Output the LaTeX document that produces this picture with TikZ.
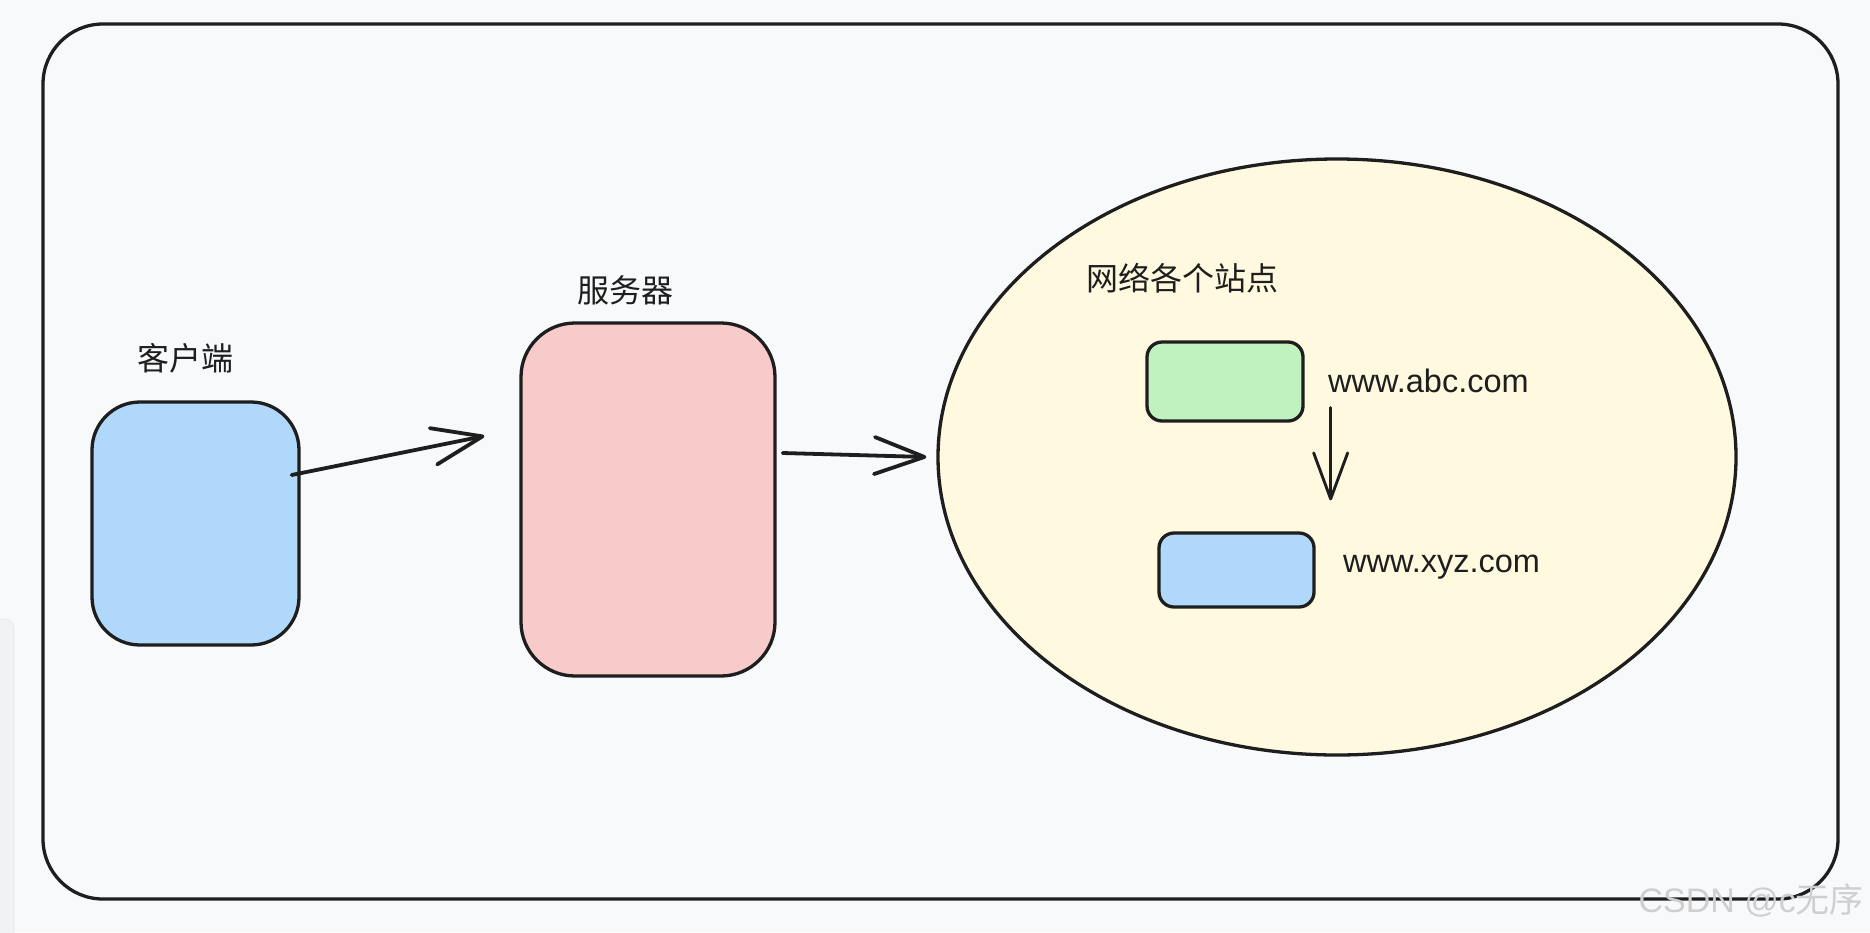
\documentclass[tikz,border=0pt]{standalone}
\usepackage{fontspec}
\setmainfont{Liberation Sans}
\newfontfamily\cjk{Noto Sans CJK SC}
\usetikzlibrary{arrows.meta,shapes.geometric,calc}
\definecolor{bgc}{HTML}{F8F9FB}
\definecolor{ink}{HTML}{1E1E1E}
\definecolor{blueb}{HTML}{B0D8FB}
\definecolor{pinkb}{HTML}{F8CBCB}
\definecolor{greenb}{HTML}{C0F2C0}
\definecolor{yellowb}{HTML}{FFFADF}
\definecolor{panelc}{HTML}{F1F2F4}
\definecolor{wmark}{HTML}{CFCFCF}
\tikzset{
  boxst/.style={draw=ink, line width=3.3pt, inner sep=0pt},
  cjklabel/.style={font=\cjk\fontsize{32pt}{36pt}\selectfont, text=ink, inner sep=0pt},
  urllabel/.style={font=\fontsize{32.5pt}{36pt}\selectfont, text=ink, inner sep=0pt},
  arr/.style={draw=ink, line width=3.8pt, line cap=round,
    -{Straight Barb[length=50pt,width=37pt,round]}},
  arrsmall/.style={draw=ink, line width=2.9pt, line cap=round,
    -{Straight Barb[length=46pt,width=34pt,round]}},
}
\begin{document}
\begin{tikzpicture}[x=1pt,y=-1pt]
\useasboundingbox (0,0) rectangle (1870,932);
\fill[bgc] (0,0) rectangle (1870,932);
% faint side panel of the screenshot
\path[fill=panelc, draw=panelc!90!gray, line width=0.6pt, rounded corners=10pt]
  (-20,619) rectangle (14,960);
% outer frame
\node[boxst, rounded corners=60pt, minimum width=1795pt, minimum height=875pt] (frame) at (940.5,461.5) {};
% client
\node[boxst, fill=blueb, rounded corners=48pt, minimum width=207pt, minimum height=243pt] (client) at (195.5,523.5) {};
\node[cjklabel] (clientlbl) at (185.5,358) {客户端};
% server
\node[boxst, fill=pinkb, rounded corners=54pt, minimum width=254pt, minimum height=353pt] (server) at (648,499.5) {};
\node[cjklabel] (serverlbl) at (625.5,290) {服务器};
% sites ellipse
\node[boxst, ellipse, fill=yellowb, minimum width=798pt, minimum height=596pt] (sites) at (1337,457) {};
\node[cjklabel, anchor=west] (siteslbl) at (1086,278) {网络各个站点};
% site boxes
\node[boxst, fill=greenb, rounded corners=15pt, minimum width=156pt, minimum height=79pt] (abc) at (1225,381.5) {};
\node[urllabel, anchor=base west] (abclbl) at (1328,392) {www.abc.com};
\node[boxst, fill=blueb, rounded corners=15pt, minimum width=155pt, minimum height=74pt] (xyz) at (1236.5,570) {};
\node[urllabel, anchor=base west] (xyzlbl) at (1343,572) {www.xyz.com};
% connectors
\coordinate (a1s) at ($(client.east)+(-9,-48.5)$);
\coordinate (a1e) at ($(server.west)+(-35,-63.5)$);
\draw[arr] (a1s) -- (a1e);
\coordinate (a2s) at ($(server.east)+(6,-46.5)$);
\coordinate (a2e) at ($(sites.west)+(-10,0)$);
\draw[arr] (a2s) -- (a2e);
\coordinate (a3s) at ($(abc.south east)+(26,-15)$);
\coordinate (a3e) at ($(xyz.north east)+(15,-31)$);
\draw[arrsmall] (a3s) -- (a3e);
% watermark
\node[font=\fontsize{34pt}{36pt}\selectfont, text=wmark, inner sep=0pt, anchor=east] (wm) at (1864,900) {CSDN @c\cjk 无序};
\end{tikzpicture}
\end{document}
